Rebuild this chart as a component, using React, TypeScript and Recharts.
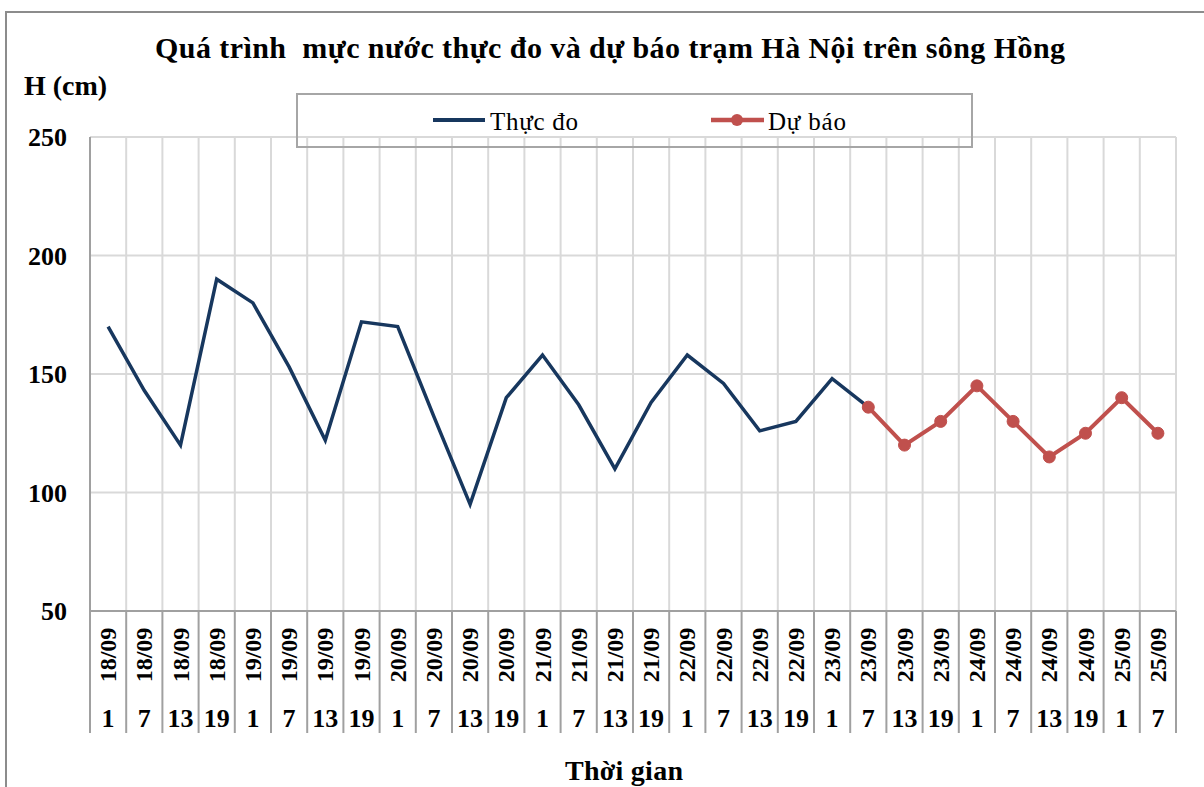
// Biểu đồ mực nước thực đo và dự báo trạm Hà Nội (sông Hồng)

import React from 'react';
import { LineChart, Line, XAxis, YAxis, CartesianGrid } from 'recharts';

const dates = [
  '18/09', '18/09', '18/09', '18/09',
  '19/09', '19/09', '19/09', '19/09',
  '20/09', '20/09', '20/09', '20/09',
  '21/09', '21/09', '21/09', '21/09',
  '22/09', '22/09', '22/09', '22/09',
  '23/09', '23/09', '23/09', '23/09',
  '24/09', '24/09', '24/09', '24/09',
  '25/09', '25/09',
];
const hours = [1, 7, 13, 19, 1, 7, 13, 19, 1, 7, 13, 19, 1, 7, 13, 19, 1, 7, 13, 19, 1, 7, 13, 19, 1, 7, 13, 19, 1, 7];

const thucDo = [
  170, 143, 120, 190, 180, 153, 122, 172, 170, 132, 95, 140, 158, 137, 110, 138,
  158, 146, 126, 130, 148, 136, null, null, null, null, null, null, null, null,
];
const duBao = [
  null, null, null, null, null, null, null, null, null, null, null, null, null, null, null, null,
  null, null, null, null, null, 136, 120, 130, 145, 130, 115, 125, 140, 125,
];
const yTicks = [50, 100, 150, 200, 250];

const data = dates.map((d, i) => ({
  cat: `${d} ${hours[i]}`,
  thucDo: thucDo[i],
  duBao: duBao[i],
}));

const FONT = '"Liberation Serif", "Times New Roman", serif';
const W = 1204;
const H = 787;
const PLOT_LEFT = 90;
const PLOT_RIGHT = 1176;
const BW = (PLOT_RIGHT - PLOT_LEFT) / dates.length;

function AxisTick(props: any) {
  const { x, y, index } = props;
  const i = index ?? props.payload?.index ?? 0;
  const dy = y + 44;
  return (
    <g>
      <line x1={x - BW / 2} y1={y} x2={x - BW / 2} y2={y + 122} stroke="#a0a0a0" strokeWidth={2} />
      {i === dates.length - 1 && (
        <line x1={x + BW / 2} y1={y} x2={x + BW / 2} y2={y + 122} stroke="#a0a0a0" strokeWidth={2} />
      )}
      <text
        x={x}
        y={dy}
        transform={`rotate(-90, ${x}, ${dy})`}
        textAnchor="middle"
        dominantBaseline="central"
        fontFamily={FONT}
        fontWeight="bold"
        fontSize={24}
        fill="#000"
      >
        {dates[i]}
      </text>
      <text x={x} y={y + 116} textAnchor="middle" fontFamily={FONT} fontWeight="bold" fontSize={26} fill="#000">
        {hours[i]}
      </text>
    </g>
  );
}

export default function App() {
  return (
    <div style={{ position: 'absolute', left: 0, top: 0, width: W, height: H, overflow: 'hidden', background: '#fff' }}>
      <LineChart width={W} height={H} data={data} margin={{ top: 137, right: W - PLOT_RIGHT, bottom: 0, left: 0 }}>
        <CartesianGrid
          stroke="#d9d9d9"
          strokeWidth={2}
          verticalCoordinatesGenerator={({ offset }: any) =>
            Array.from({ length: dates.length + 1 }, (_, k) => offset.left + (k * offset.width) / dates.length)
          }
        />
        <XAxis
          dataKey="cat"
          interval={0}
          height={176}
          padding={{ left: BW / 2, right: BW / 2 }}
          tickSize={0}
          tickMargin={0}
          tickLine={false}
          axisLine={{ stroke: '#a0a0a0', strokeWidth: 2 }}
          tick={<AxisTick />}
        />
        <YAxis
          width={PLOT_LEFT}
          domain={[50, 250]}
          ticks={yTicks}
          tickSize={0}
          tickMargin={23}
          tickLine={false}
          axisLine={{ stroke: '#a0a0a0', strokeWidth: 2 }}
          tick={{ fontFamily: FONT, fontWeight: 'bold', fontSize: 26, fill: '#000' }}
        />
        <Line
          type="linear"
          dataKey="thucDo"
          name="Thực đo"
          stroke="#17375E"
          strokeWidth={3.5}
          dot={false}
          isAnimationActive={false}
        />
        <Line
          type="linear"
          dataKey="duBao"
          name="Dự báo"
          stroke="#C0504D"
          strokeWidth={4}
          dot={{ r: 6, fill: '#C0504D', stroke: '#C0504D', strokeWidth: 1 }}
          isAnimationActive={false}
        />
      </LineChart>

      {/* title, axis names and legend */}
      <svg width={W} height={H} style={{ position: 'absolute', left: 0, top: 0, pointerEvents: 'none' }}>
        <rect x={6} y={12} width={W + 20} height={H + 20} fill="none" stroke="#8c8c8c" strokeWidth={2} />
        <text
          x={155}
          y={58}
          textLength={910}
          fontFamily={FONT}
          fontWeight="bold"
          fontSize={30}
          fill="#000"
          style={{ whiteSpace: 'pre' }}
        >
          {'Quá trình  mực nước thực đo và dự báo trạm Hà Nội trên sông Hồng'}
        </text>
        <text x={24} y={95} fontFamily={FONT} fontWeight="bold" fontSize={28} fill="#000">
          H (cm)
        </text>
        <text x={565} y={780} textLength={118} fontFamily={FONT} fontWeight="bold" fontSize={28} fill="#000">
          Thời gian
        </text>
        <rect x={297} y={94} width={675} height={53} fill="none" stroke="#a6a6a6" strokeWidth={2} />
        <line x1={433} y1={120} x2={485} y2={120} stroke="#17375E" strokeWidth={4} />
        <text x={490} y={130} textLength={88} fontFamily={FONT} fontSize={25} fill="#000">
          Thực đo
        </text>
        <line x1={711} y1={120} x2={764} y2={120} stroke="#C0504D" strokeWidth={4.5} />
        <circle cx={737} cy={120} r={6} fill="#C0504D" />
        <text x={768} y={130} textLength={78} fontFamily={FONT} fontSize={25} fill="#000">
          Dự báo
        </text>
      </svg>
    </div>
  );
}
